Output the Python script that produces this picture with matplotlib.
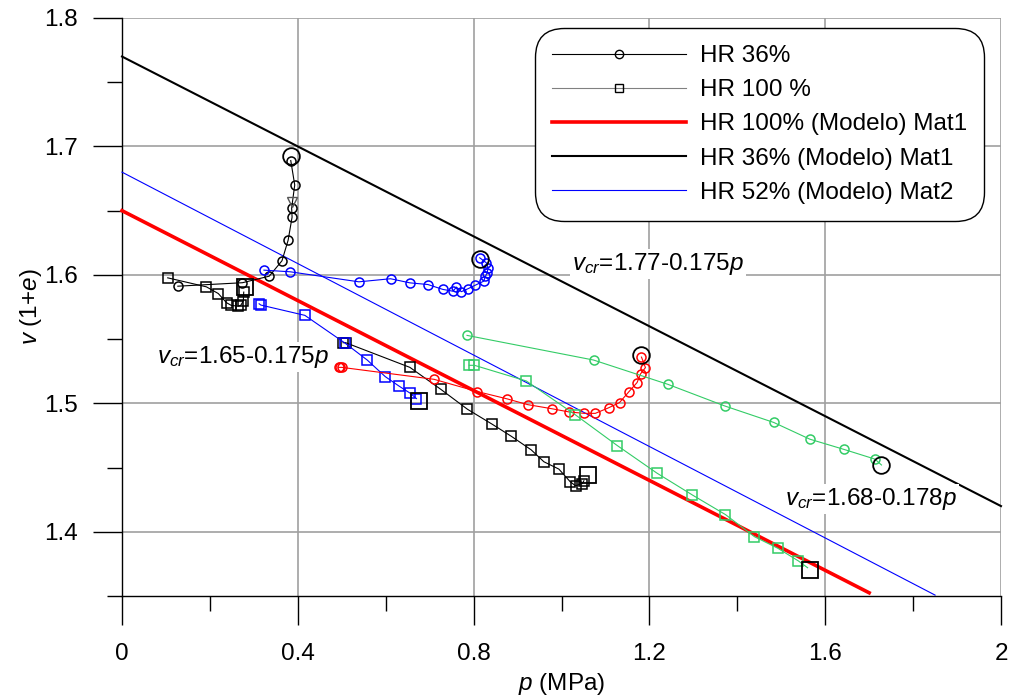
import matplotlib
matplotlib.use("Agg")
import matplotlib.pyplot as plt
import numpy as np
from matplotlib.ticker import MultipleLocator
from matplotlib.lines import Line2D

plt.rcParams['font.family'] = ['Liberation Sans', 'DejaVu Sans']
plt.rcParams['mathtext.fontset'] = 'custom'
plt.rcParams['mathtext.rm'] = 'Liberation Sans'
plt.rcParams['mathtext.it'] = 'Liberation Sans:italic'

FS = 17.5

# ---------------- data ----------------
# HR 36 %  (black circles)
k36_p = [0.127, 0.274, 0.335, 0.364, 0.378, 0.387, 0.386, 0.393, 0.384]
k36_v = [1.5912, 1.5939, 1.5990, 1.6110, 1.6270, 1.6450, 1.6520, 1.6700, 1.6890]
k36_tri_p = [0.386]
k36_tri_v = [1.6570]

# HR 100 % (black squares, first test)
k100a_p = [0.104, 0.192, 0.219, 0.238, 0.249, 0.264, 0.270, 0.276, 0.277]
k100a_v = [1.5977, 1.5907, 1.5855, 1.5783, 1.5762, 1.5757, 1.5762, 1.5796, 1.5866]

# HR 100 % (black squares, second test)
k100b_p = [0.503, 0.509, 0.655, 0.725, 0.786, 0.842, 0.886, 0.931, 0.960,
           0.994, 1.020, 1.032, 1.047, 1.051]
k100b_v = [1.5472, 1.5472, 1.5280, 1.5110, 1.4954, 1.4838, 1.4743, 1.4638,
           1.4545, 1.4488, 1.4389, 1.4358, 1.4375, 1.4397]

# blue circles
b_circ_p = [0.323, 0.383, 0.539, 0.611, 0.655, 0.696, 0.730, 0.753, 0.761,
            0.772, 0.787, 0.804, 0.823, 0.827, 0.831, 0.833, 0.829, 0.814]
b_circ_v = [1.6037, 1.6024, 1.5946, 1.5970, 1.5938, 1.5925, 1.5887, 1.5873,
            1.5905, 1.5869, 1.5892, 1.5920, 1.5951, 1.5990, 1.6016, 1.6055,
            1.6094, 1.6133]

# blue squares
b_sq_p = [0.312, 0.316, 0.416, 0.507, 0.558, 0.599, 0.630, 0.656, 0.670]
b_sq_v = [1.5775, 1.5765, 1.5685, 1.5470, 1.5337, 1.5208, 1.5135, 1.5078, 1.5037]

# red circles
r_circ_p = [0.493, 0.497, 0.500, 0.710, 0.808, 0.876, 0.923, 0.978, 1.017,
            1.052, 1.077, 1.107, 1.132, 1.153, 1.172, 1.180, 1.191, 1.182]
r_circ_v = [1.5280, 1.5280, 1.5280, 1.5187, 1.5092, 1.5035, 1.4990, 1.4958,
            1.4933, 1.4922, 1.4922, 1.4965, 1.5006, 1.5089, 1.5162, 1.5230,
            1.5278, 1.5360]

# green circles
g_circ_p = [0.785, 1.073, 1.242, 1.371, 1.483, 1.565, 1.643, 1.713, 1.728]
g_circ_v = [1.5529, 1.5337, 1.5148, 1.4980, 1.4851, 1.4721, 1.4641, 1.4566, 1.4520]

# green squares
g_sq_p = [0.790, 0.802, 0.920, 1.031, 1.127, 1.217, 1.298, 1.373, 1.439,
          1.492, 1.539, 1.560]
g_sq_v = [1.5296, 1.5296, 1.5174, 1.4912, 1.4671, 1.4457, 1.4286, 1.4134,
          1.3962, 1.3872, 1.3773, 1.3720]

# end-of-test markers (large)
end_circ_p = [0.384, 0.814, 1.182, 1.728]
end_circ_v = [1.6925, 1.6125, 1.5380, 1.4520]
end_sq_p = [0.281, 0.675, 1.060, 1.566]
end_sq_v = [1.5904, 1.5020, 1.4444, 1.3706]

# critical state lines  v = a - b p
csl_labels = ['HR 100% (Modelo) Mat1', 'HR 36% (Modelo) Mat1', 'HR 52% (Modelo) Mat2']
csl_a = [1.65, 1.77, 1.68]
csl_b = [0.175, 0.175, 0.178]
csl_pmax = [1.70, 2.0, 1.85]

ann_text = [r'$\mathit{v}_{\mathit{cr}}$=1.77-0.175$\mathit{p}$',
            r'$\mathit{v}_{\mathit{cr}}$=1.65-0.175$\mathit{p}$',
            r'$\mathit{v}_{\mathit{cr}}$=1.68-0.178$\mathit{p}$']
ann_p = [1.025, 0.080, 1.508]
ann_v = [1.6037, 1.5312, 1.4208]

# ---------------- figure ----------------
W, H = 1009, 695
fig = plt.figure(figsize=(W / 100, H / 100), dpi=100)
ax = fig.add_axes([122 / W, 1 - 596 / H, (1001 - 122) / W, (596 - 18) / H])

ax.set_xlim(0, 2)
ax.set_ylim(1.35, 1.8)

GREEN = '#33cc66'
BLUE = '#0000ff'
RED = '#ff0000'

small = dict(markersize=6.5, markerfacecolor='none', markeredgewidth=1.1, linewidth=0.8)

# model lines
csl_colors = [RED, 'black', BLUE]
csl_widths = [2.6, 1.5, 0.8]
for a, b, pm, c, lw in zip(csl_a, csl_b, csl_pmax, csl_colors, csl_widths):
    pp = np.array([0.0, pm])
    ax.plot(pp, a - b * pp, color=c, linewidth=lw, zorder=3, clip_on=False)

# experimental data
ax.plot(k36_p, k36_v, color='black', marker='o', markeredgecolor='black', zorder=4, **small)
ax.plot(k36_tri_p, k36_tri_v, linestyle='none', marker='v', markersize=7,
        markerfacecolor='none', markeredgecolor='#555555', markeredgewidth=1.0, zorder=4)
ax.plot(k100a_p, k100a_v, color='black', marker='s', markeredgecolor='black', zorder=4, **small)
ax.plot(k100b_p, k100b_v, color='black', marker='s', markeredgecolor='black', zorder=4, **small)
ax.plot(b_circ_p, b_circ_v, color=BLUE, marker='o', markeredgecolor=BLUE, zorder=4, **small)
ax.plot(b_sq_p, b_sq_v, color=BLUE, marker='s', markeredgecolor=BLUE, zorder=4, **small)
ax.plot(r_circ_p, r_circ_v, color=RED, marker='o', markeredgecolor=RED, zorder=4, **small)
ax.plot(g_circ_p, g_circ_v, color=GREEN, marker='o', markeredgecolor=GREEN,
        markevery=list(range(len(g_circ_p) - 1)), zorder=4, **small)
ax.plot(g_sq_p, g_sq_v, color=GREEN, marker='s', markeredgecolor=GREEN,
        markevery=list(range(len(g_sq_p) - 1)), zorder=4, **small)

ax.plot(end_circ_p, end_circ_v, linestyle='none', marker='o', markersize=12,
        markerfacecolor='none', markeredgecolor='black', markeredgewidth=1.3, zorder=5)
ax.plot(end_sq_p, end_sq_v, linestyle='none', marker='s', markersize=12,
        markerfacecolor='none', markeredgecolor='black', markeredgewidth=1.3, zorder=5)

# annotations
for t, x, y in zip(ann_text, ann_p, ann_v):
    ax.text(x, y, t, fontsize=FS, ha='left', va='baseline', zorder=6,
            bbox=dict(facecolor='white', edgecolor='none', pad=1.5))

# axes styling
ax.xaxis.set_minor_locator(MultipleLocator(0.2))
ax.yaxis.set_minor_locator(MultipleLocator(0.05))
ax.set_xticks([0, 0.4, 0.8, 1.2, 1.6, 2.0])
ax.set_xticklabels(['0', '0.4', '0.8', '1.2', '1.6', '2'])
ax.set_yticks([1.4, 1.5, 1.6, 1.7, 1.8])
ax.set_yticklabels(['1.4', '1.5', '1.6', '1.7', '1.8'])

ax.tick_params(axis='both', which='major', direction='out', length=21, width=1.0,
               labelsize=FS, color='black')
ax.tick_params(axis='both', which='minor', direction='out', length=10.5, width=1.0,
               color='black')
ax.tick_params(axis='x', which='major', pad=13)
ax.tick_params(axis='y', which='major', pad=11)

ax.grid(True, which='major', color='#a0a0a0', linewidth=1.2, zorder=0)
ax.set_axisbelow(True)
for s in ['top', 'right']:
    ax.spines[s].set_visible(False)
for s in ['left', 'bottom']:
    ax.spines[s].set_color('black')
    ax.spines[s].set_linewidth(1.0)

ax.set_xlabel(r'$\mathit{p}$ (MPa)', fontsize=FS, labelpad=4)
ax.set_ylabel(r'$\mathit{v}$ (1+$\mathit{e}$)', fontsize=FS, labelpad=0)

# legend
handles = [
    Line2D([], [], color='black', linewidth=0.8, marker='o', markersize=6,
           markerfacecolor='none', markeredgecolor='black', markeredgewidth=1.0),
    Line2D([], [], color='#808080', linewidth=0.8, marker='s', markersize=6,
           markerfacecolor='none', markeredgecolor='black', markeredgewidth=1.0),
    Line2D([], [], color=RED, linewidth=2.6),
    Line2D([], [], color='black', linewidth=1.5),
    Line2D([], [], color=BLUE, linewidth=0.8),
]
labels = ['HR 36%', 'HR 100 %'] + csl_labels
leg = ax.legend(handles, labels, loc='upper left',
                bbox_to_anchor=((535 - 122) / (1001 - 122), 1 - (28 - 18) / (596 - 18)),
                fontsize=FS, frameon=True, fancybox=True, framealpha=1,
                edgecolor='black', handlelength=5.5, handletextpad=0.6,
                labelspacing=0.5, borderpad=0.7, borderaxespad=0, numpoints=1)
leg.get_frame().set_linewidth(1.0)
leg.get_frame().set_boxstyle('round,pad=0.0,rounding_size=1.2')
leg.set_zorder(10)

fig.savefig('out.png', dpi=100)
